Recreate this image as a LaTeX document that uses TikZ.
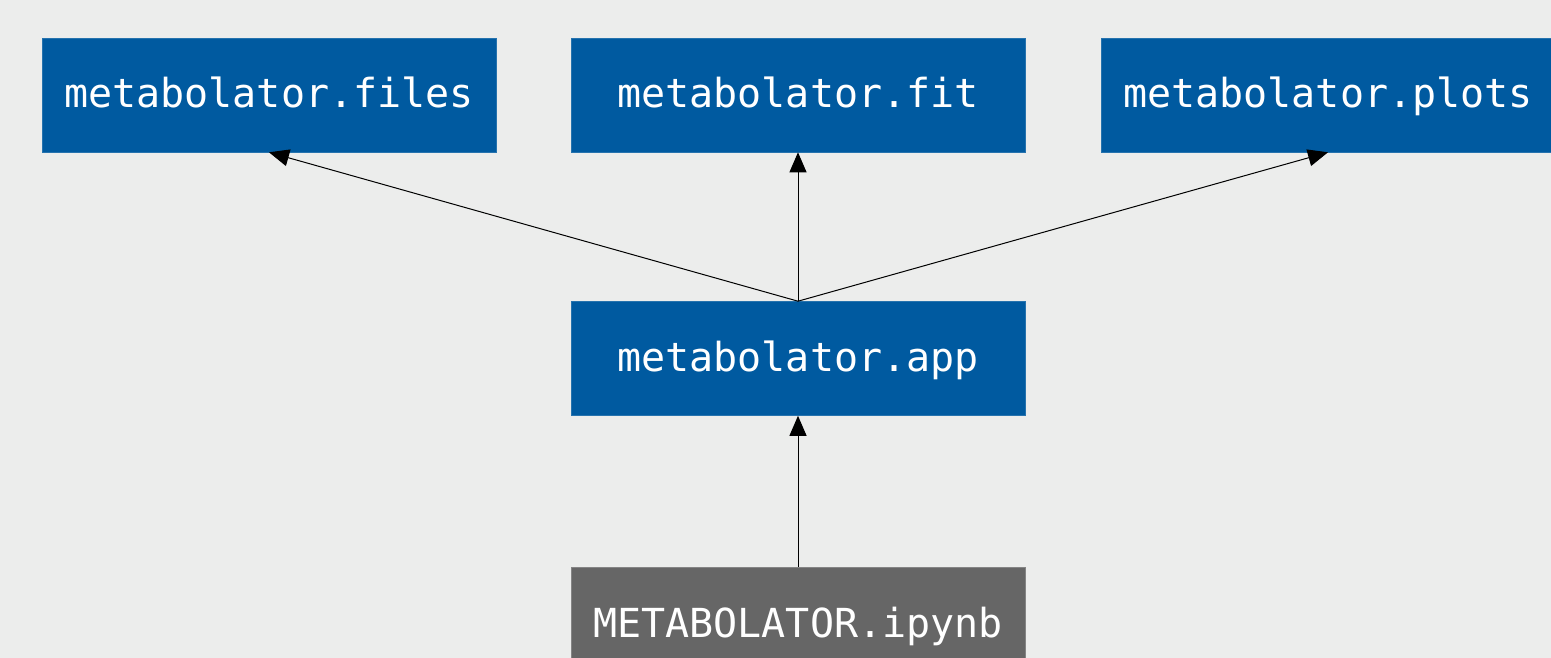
\documentclass[tikz,border=0pt]{standalone}
\usepackage{fontspec}
\setmonofont{DejaVu Sans Mono}
\usetikzlibrary{arrows.meta}
\definecolor{pagebg}{HTML}{ECEDEC}
\definecolor{modblue}{HTML}{005AA0}
\definecolor{nbgray}{HTML}{666666}
\begin{document}
\begin{tikzpicture}[x=1pt, y=-1pt,
   modbox/.style={fill=modblue, draw=modblue!85!white, line width=0.6pt, text=white,
     minimum width=454pt, minimum height=114pt, inner sep=0pt,
     font=\fontsize{40}{48}\selectfont\ttfamily, text height=30pt, text depth=4pt},
   nbbox/.style={modbox, fill=nbgray, draw=nbgray!80!white},
   dep/.style={line width=1pt, -{Triangle[length=20pt, width=17pt]}}]
   \fill[pagebg] (0,0) rectangle (1551,658);
   \useasboundingbox (0,0) rectangle (1551,658);
   \node[modbox] (files) at (269,95) {metabolator.files};
   \node[modbox] (fit) at (798,95) {metabolator.fit};
   \node[modbox] (plots) at (1328,95) {metabolator.plots};
   \node[modbox] (app) at (798,358.5) {metabolator.app};
   \node[nbbox] (nb) at (798,624) {METABOLATOR.ipynb};
   \draw[dep] (app.north) -- (files.south);
   \draw[dep] (app.north) -- (fit.south);
   \draw[dep] (app.north) -- (plots.south);
   \draw[dep] (nb.north) -- (app.south);
\end{tikzpicture}
\end{document}
